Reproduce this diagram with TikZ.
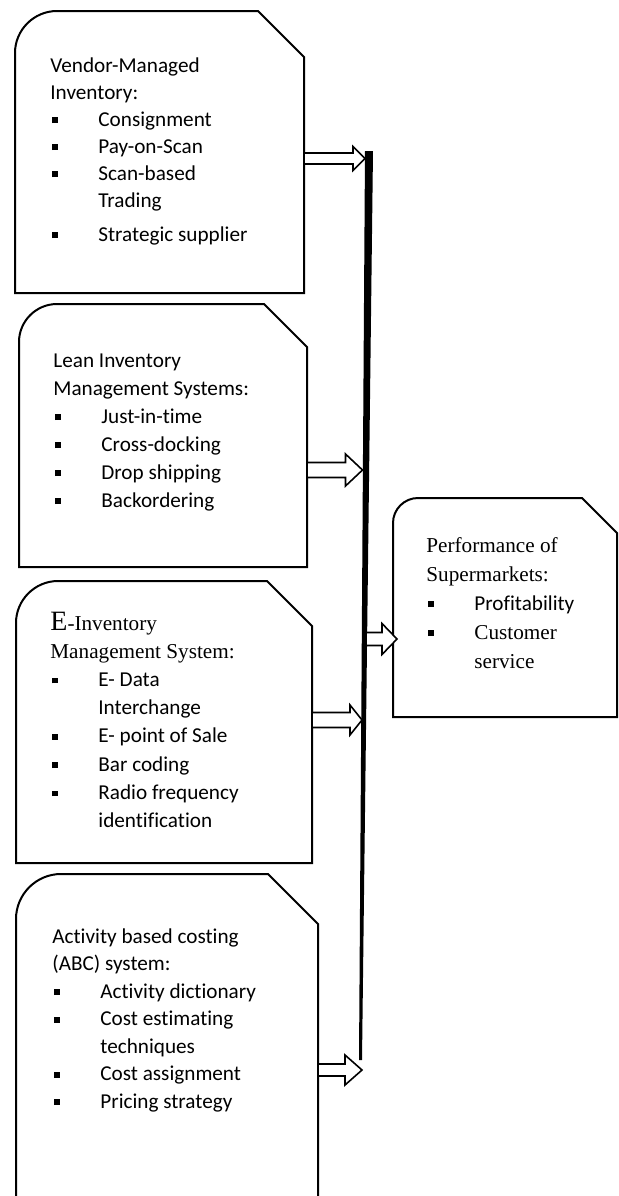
\documentclass[tikz,border=0pt]{standalone}
\usepackage{fontspec}
\setmainfont[Ligatures=CommonOff]{Carlito}
\newfontfamily\serifface{Liberation Serif}
\usepackage{tikz}
\usetikzlibrary{calc}

\tikzstyle{panel} = [line width=1pt, draw=black, line join=miter]
\tikzstyle{textblock} = [anchor=base west, inner sep=0pt]
\tikzstyle{fatarrow} = [draw, line width=0.8pt, fill=white, line join=miter]

\newcommand{\sqitem}{\hspace*{1pt}\makebox[23pt][l]{\rule[1.5pt]{2.8pt}{2.8pt}}}
\newcommand{\wrapitem}{\hspace*{24pt}}

% outline of a panel: [closing], x1, y1, x2, y2, radius, chamfer
\newcommand{\panel}[7][-- cycle]{%
  \draw[panel] (#2,#5) -- (#2,#3+#6) .. controls (#2,#3+0.45*#6) and (#2+0.45*#6,#3) .. (#2+#6,#3)
    -- (#4-#7,#3) -- (#4,#3+#7) -- (#4,#5) #1;}

% block arrow: from, to, shaft half, head half, head length
\newcommand{\fatarrow}[5]{%
  \draw[fatarrow] ($(#1)+(0,-#3)$) -- ($(#2)+(-#5,-#3)$) -- ($(#2)+(-#5,-#4)$) -- (#2)
    -- ($(#2)+(-#5,#4)$) -- ($(#2)+(-#5,#3)$) -- ($(#1)+(0,#3)$) -- cycle;}

\begin{document}
\begin{tikzpicture}[x=0.5pt, y=-0.5pt]
    \useasboundingbox (0,0) rectangle (619,1196);

    % panels
    \panel{15}{11}{304}{293}{42}{46}
    \panel{19}{304}{307}{567}{38}{43}
    \panel{16}{581}{312}{863}{42}{45}
    \panel[]{16}{874}{318}{1196}{45}{50}
    \panel{393}{498}{617}{717}{25}{35}

    % texts
    \node [textblock, font=\fontsize{10.6}{13.5}\selectfont] (vmi) at (50,72) {\begin{tabular}[t]{@{}l@{}}
        Vendor-Managed\\
        Inventory:\\
        \sqitem Consignment\\
        \sqitem Pay-on-Scan\\
        \sqitem Scan-based\\
        \wrapitem Trading\\[3.5pt]
        \sqitem Strategic supplier
    \end{tabular}};
    \node [textblock, font=\fontsize{10.6}{14}\selectfont] (lean) at (53,367) {\begin{tabular}[t]{@{}l@{}}
        Lean Inventory\\
        Management Systems:\\
        \sqitem Just-in-time\\
        \sqitem Cross-docking\\
        \sqitem Drop shipping\\
        \sqitem Backordering
    \end{tabular}};
    \node [textblock, font=\fontsize{10.6}{14.1}\selectfont] (einv) at (50,630) {\begin{tabular}[t]{@{}l@{}}
        {\serifface{\fontsize{14}{14}\selectfont E}-Inventory}\\
        {\serifface Management System:}\\
        \sqitem E- Data\\
        \wrapitem Interchange\\
        \sqitem E- point of Sale\\
        \sqitem Bar coding\\
        \sqitem Radio frequency\\
        \wrapitem identification
    \end{tabular}};
    \node [textblock, font=\fontsize{10.6}{13.75}\selectfont] (abc) at (52,943) {\begin{tabular}[t]{@{}l@{}}
        Activity based costing\\
        (ABC) system:\\
        \sqitem Activity dictionary\\
        \sqitem Cost estimating\\
        \wrapitem techniques\\
        \sqitem Cost assignment\\
        \sqitem Pricing strategy
    \end{tabular}};
    \node [textblock, font=\fontsize{10.6}{14.5}\selectfont] (perf) at (426,552) {\begin{tabular}[t]{@{}l@{}}
        {\serifface Performance of}\\
        {\serifface Supermarkets:}\\
        \sqitem Profitability\\
        \sqitem {\serifface Customer}\\
        \wrapitem {\serifface service}
    \end{tabular}};

    % central bar
    \coordinate (bar-top) at (369,151);
    \coordinate (bar-bottom) at (360.5,1060);
    \fill ($(bar-top)+(-4,0)$) -- ($(bar-top)+(4,0)$) -- ($(bar-bottom)+(1.5,0)$) -- ($(bar-bottom)+(-1.5,0)$) -- cycle;

    % arrow ends
    \coordinate (vmi-e) at (304,158.5);
    \coordinate (bar-vmi) at (365,158.5);
    \coordinate (lean-e) at (307,470);
    \coordinate (bar-lean) at (362.5,470);
    \coordinate (bar-perf) at (366,639);
    \coordinate (perf-w) at (397,639);
    \coordinate (einv-e) at (312,720);
    \coordinate (bar-einv) at (362,720);
    \coordinate (abc-e) at (318,1070);
    \coordinate (bar-abc) at (362,1070);

    \fatarrow{vmi-e}{bar-vmi}{5.5}{12}{12}
    \fatarrow{lean-e}{bar-lean}{7.5}{16}{17}
    \fatarrow{bar-perf}{perf-w}{6.5}{15.5}{15}
    \fatarrow{einv-e}{bar-einv}{7.5}{15}{12}
    \fatarrow{abc-e}{bar-abc}{6}{15}{17}

\end{tikzpicture}
\end{document}
